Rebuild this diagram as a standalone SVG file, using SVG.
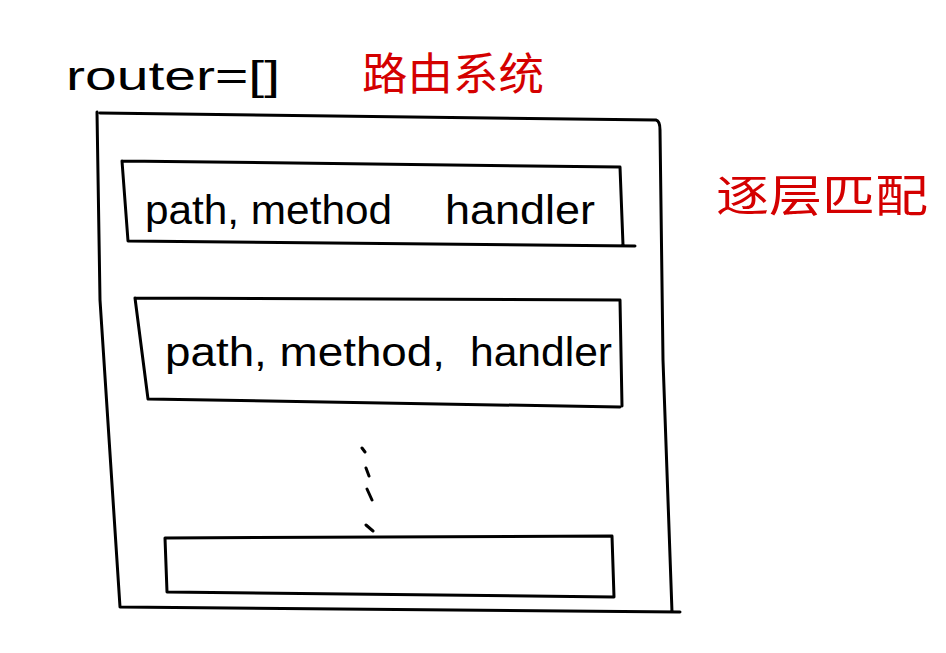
<svg xmlns="http://www.w3.org/2000/svg" width="946" height="653" viewBox="0 0 946 653">
<style>
.ln{fill:none;stroke:#000;stroke-width:3;stroke-linecap:round;stroke-linejoin:round}
.t{font-family:"Liberation Sans","Noto Sans",sans-serif;fill:#000}
.r{font-family:"Noto Sans CJK SC","Noto Sans",sans-serif;fill:#d40000}
</style>
<rect width="946" height="653" fill="#fff"/>
<g id="title">
<text class="t" x="66" y="90" font-size="40" textLength="214" lengthAdjust="spacingAndGlyphs">router=[]</text>
</g>
<g id="label-system">
<text class="r" x="362" y="90" font-size="44" textLength="182" lengthAdjust="spacingAndGlyphs">路由系统</text>
</g>
<g id="label-match">
<text class="r" x="716" y="212" font-size="44" textLength="212" lengthAdjust="spacingAndGlyphs">逐层匹配</text>
</g>
<g id="outer">
<path class="ln" d="M100,113 L656,120 Q660,121 660,130 L663,360 L672,612 M97,112 L100,300 L120,607 M120,607 L680,612"/>
</g>
<g id="row1">
<path class="ln" d="M122,161 L620,167 L623,245 M122,161 L128,241 L635,246"/>
<text class="t" x="145" y="224" font-size="40" textLength="247" lengthAdjust="spacingAndGlyphs">path, method</text>
<text class="t" x="445" y="224" font-size="40" textLength="150" lengthAdjust="spacingAndGlyphs">handler</text>
</g>
<g id="row2">
<path class="ln" d="M135,298 L620,300 L622,406 M135,298 L148,399 L620,407"/>
<text class="t" x="165" y="366" font-size="40" textLength="280" lengthAdjust="spacingAndGlyphs">path, method,</text>
<text class="t" x="470" y="366" font-size="40" textLength="142" lengthAdjust="spacingAndGlyphs">handler</text>
</g>
<g id="row3">
<path class="ln" d="M165,538 L612,536 L614,597 M165,538 L167,592 L614,597"/>
</g>
<g id="connectors">
<path class="ln" d="M362,448 L365,452 M366,468 L369,476 M367,489 L372,500 M366,525 L373,531"/>
</g>
</svg>
